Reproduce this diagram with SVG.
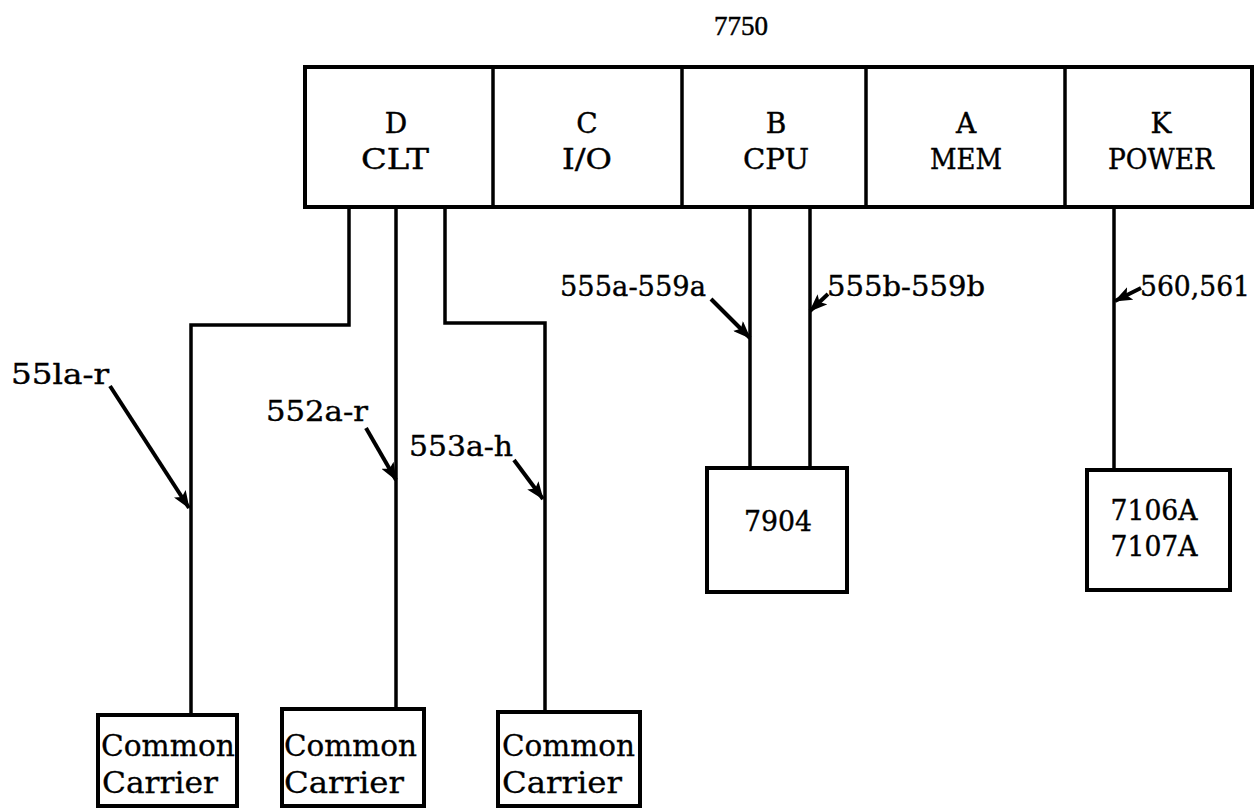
<svg xmlns="http://www.w3.org/2000/svg" width="1258" height="810" viewBox="0 0 1258 810">
<defs>
<style>
.box{fill:#fff;stroke:#000;stroke-width:4}
.ln{fill:none;stroke:#000;stroke-width:3.5;stroke-linejoin:miter}
.ar{fill:none;stroke:#000;stroke-width:4}
.t{font-family:"DejaVu Serif","Liberation Serif",serif;font-size:28px;fill:#000;text-anchor:middle;stroke:#000;stroke-width:0.4}
.lb{font-family:"DejaVu Serif","Liberation Serif",serif;font-size:27px;fill:#000;stroke:#000;stroke-width:0.4}
.cc{font-family:"DejaVu Serif","Liberation Serif",serif;font-size:30px;fill:#000;stroke:#000;stroke-width:0.3}
.top{font-family:"Liberation Serif","DejaVu Serif",serif;font-size:27px;fill:#000;text-anchor:middle;stroke:#000;stroke-width:0.5}
</style>
<marker id="ah" viewBox="0 0 18 14" refX="17" refY="7" markerWidth="18" markerHeight="14" markerUnits="userSpaceOnUse" orient="auto">
<path d="M0,0 L18,7 L0,14 L4,7 Z" fill="#000"/>
</marker>
</defs>
<rect width="1258" height="810" fill="#fff"/>

<text class="top" x="741" y="35" textLength="54" lengthAdjust="spacing">7750</text>

<g id="main">
<rect class="box" x="305" y="67" width="947" height="140"/>
<line class="ln" x1="493" y1="67" x2="493" y2="207"/>
<line class="ln" x1="682" y1="67" x2="682" y2="207"/>
<line class="ln" x1="866" y1="67" x2="866" y2="207"/>
<line class="ln" x1="1065" y1="67" x2="1065" y2="207"/>
</g>
<g id="clt"><text class="t" x="396" y="133">D</text><text class="t" x="395" y="169" textLength="68" lengthAdjust="spacingAndGlyphs">CLT</text></g>
<g id="io"><text class="t" x="587" y="133">C</text><text class="t" x="587" y="169" textLength="50" lengthAdjust="spacingAndGlyphs">I/O</text></g>
<g id="cpu"><text class="t" x="776" y="133">B</text><text class="t" x="776" y="169" textLength="66" lengthAdjust="spacingAndGlyphs">CPU</text></g>
<g id="mem"><text class="t" x="966" y="133">A</text><text class="t" x="966" y="169" textLength="72" lengthAdjust="spacingAndGlyphs">MEM</text></g>
<g id="power"><text class="t" x="1161" y="133">K</text><text class="t" x="1161" y="169" textLength="106" lengthAdjust="spacingAndGlyphs">POWER</text></g>

<g id="n7904"><rect class="box" x="707" y="468" width="140" height="124"/><text class="t" x="778" y="531" textLength="68" lengthAdjust="spacingAndGlyphs">7904</text></g>
<g id="n7106"><rect class="box" x="1087" y="470" width="143" height="120"/><text class="t" x="1154" y="520" textLength="87" lengthAdjust="spacingAndGlyphs">7106A</text><text class="t" x="1154" y="556" textLength="87" lengthAdjust="spacingAndGlyphs">7107A</text></g>

<g id="cc1"><rect class="box" x="98" y="715" width="139" height="91"/><text class="cc" x="101" y="756" textLength="134" lengthAdjust="spacingAndGlyphs">Common</text><text class="cc" x="102" y="793" textLength="116" lengthAdjust="spacingAndGlyphs">Carrier</text></g>
<g id="cc2"><rect class="box" x="282" y="709" width="142" height="97"/><text class="cc" x="284" y="756" textLength="133" lengthAdjust="spacingAndGlyphs">Common</text><text class="cc" x="284" y="793" textLength="120" lengthAdjust="spacingAndGlyphs">Carrier</text></g>
<g id="cc3"><rect class="box" x="498" y="712" width="142" height="94"/><text class="cc" x="502" y="756" textLength="133" lengthAdjust="spacingAndGlyphs">Common</text><text class="cc" x="502" y="793" textLength="120" lengthAdjust="spacingAndGlyphs">Carrier</text></g>

<g id="connectors">
<polyline class="ln" points="349,207 349,325 191,325 191,715"/>
<line class="ln" x1="396" y1="207" x2="396" y2="709"/>
<polyline class="ln" points="445,207 445,323 545,323 545,712"/>
<line class="ln" x1="750" y1="207" x2="750" y2="468"/>
<line class="ln" x1="810" y1="207" x2="810" y2="468"/>
<line class="ln" x1="1114" y1="207" x2="1114" y2="470"/>

<line class="ar" x1="110" y1="386" x2="189" y2="508" marker-end="url(#ah)"/>
<line class="ar" x1="366" y1="428" x2="396" y2="480" marker-end="url(#ah)"/>
<line class="ar" x1="514" y1="460" x2="543" y2="499" marker-end="url(#ah)"/>
<line class="ar" x1="711" y1="299" x2="750" y2="338" marker-end="url(#ah)"/>
<line class="ar" x1="828" y1="294" x2="810" y2="311" marker-end="url(#ah)"/>
<line class="ar" x1="1141" y1="288" x2="1115" y2="301" marker-end="url(#ah)"/>
</g>

<g id="labels">
<text class="lb" x="11" y="384" textLength="98" lengthAdjust="spacingAndGlyphs">55la-r</text>
<text class="lb" x="266" y="421" textLength="102" lengthAdjust="spacingAndGlyphs">552a-r</text>
<text class="lb" x="409" y="456" textLength="104" lengthAdjust="spacingAndGlyphs">553a-h</text>
<text class="lb" x="560" y="296" textLength="146" lengthAdjust="spacingAndGlyphs">555a-559a</text>
<text class="lb" x="827" y="296" textLength="158" lengthAdjust="spacingAndGlyphs">555b-559b</text>
<text class="lb" x="1140" y="296" textLength="110" lengthAdjust="spacingAndGlyphs">560,561</text>
</g>
</svg>
